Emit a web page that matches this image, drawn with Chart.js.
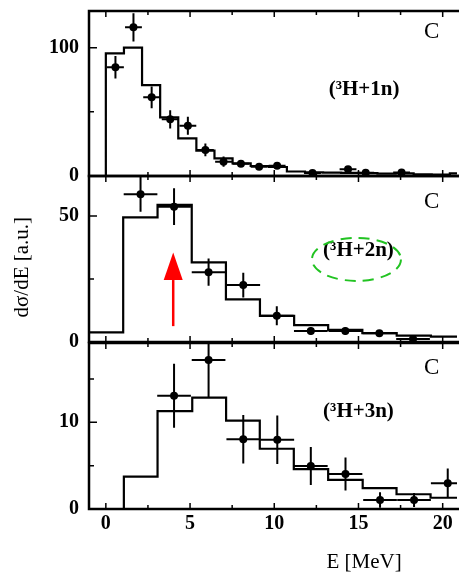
<!DOCTYPE html>
<html>
<head>
<meta charset="utf-8">
<script src="https://cdn.jsdelivr.net/npm/chart.js@4.4.0/dist/chart.umd.min.js"></script>
<style>
  body { margin: 0; background: #fff; }
  #wrap { position: relative; width: 461px; height: 576px; overflow: hidden; }
  .panel { position: absolute; left: 0; width: 461px; }
</style>
</head>
<body>
<div id="wrap">
  <div class="panel" style="top:0;height:200px"><canvas id="p1"></canvas></div>
  <div class="panel" style="top:166px;height:200px"><canvas id="p2"></canvas></div>
  <div class="panel" style="top:333px;height:243px"><canvas id="p3"></canvas></div>
</div>
<script>
// shared energy axis [MeV]
const xMajor = [0, 5, 10, 15, 20];
const xMinor = [2.5, 7.5, 12.5, 17.5];

// panel 1 : (3H+1n)
const edges1 = [0, 1.075, 2.15, 3.225, 4.3, 5.375, 6.45, 7.525, 8.6, 9.675, 10.75, 11.825, 12.9, 13.975, 15.05, 16.125, 17.2, 18.275, 19.35, 20.425, 21.5];
const hist1 = [95.6, 100, 70.9, 45.7, 29.4, 19.7, 13.8, 9.9, 7.8, 7.0, 3.5, 2.8, 2.6, 2.4, 2.2, 1.8, 2.0, 1.2, 1.0, 2.0];
const e1 = [0.57, 1.64, 2.72, 3.82, 4.87, 5.91, 6.99, 8.02, 9.1, 10.17, 12.27, 14.38, 15.43, 17.56];
const v1 = [84.7, 115.9, 61.3, 44.2, 39.2, 20.3, 11.2, 9.5, 7.3, 7.9, 2.4, 5.3, 2.6, 2.8];
const dv1 = [8.8, 11, 8.4, 7.1, 7, 5, 4, 2.5, 2, 2, 1.5, 2, 1.5, 1.5];
const de1 = [0.5, 0.5, 0.5, 0.5, 0.5, 0.5, 0.5, 0.5, 0.5, 0.5, 0.5, 0.5, 0.5, 0.5];
const yMajor1 = [0, 100];
const yMinor1 = [50];

// panel 2 : (3H+2n)
const edges2 = [-1.5, 1.03, 3.07, 5.1, 7.13, 9.15, 11.18, 13.2, 15.23, 17.27, 19.3, 21.5];
const hist2 = [3.8, 49.5, 54.4, 31.6, 16.9, 10.4, 6.7, 4.8, 3.5, 2.5, 2.1];
const e2 = [2.06, 4.05, 6.1, 8.16, 10.15, 12.17, 14.22, 16.24, 18.24];
const v2 = [58.7, 53.7, 27.7, 22.6, 10.4, 4.4, 4.4, 3.5, 1.2];
const dv2 = [7, 7.3, 5.4, 4.9, 3.8, 1.5, 1.5, 1.2, 1];
const de2 = [1, 1, 1, 1, 1, 1, 1, 1, 1];
const yMajor2 = [0, 50];
const yMinor2 = [25];

// panel 3 : (3H+3n)
const edges3 = [-1.5, 1.07, 3.07, 5.13, 7.14, 9.14, 11.16, 13.2, 15.25, 17.26, 19.28, 21.5];
const hist3 = [0, 3.73, 11.3, 12.84, 10.2, 6.95, 4.6, 3.35, 2.4, 1.7, 1.3];
const e3 = [4.05, 6.1, 8.16, 10.18, 12.17, 14.23, 16.28, 18.3, 20.3];
const v3 = [13.07, 17.2, 8.04, 8.0, 4.96, 4.04, 1.04, 1.04, 2.96];
const dv3 = [3.7, 4.4, 2.8, 2.8, 2.2, 1.9, 0.9, 0.8, 1.7];
const de3 = [1, 1, 1, 1, 1, 1, 1, 1, 1];
const yMajor3 = [0, 10];
const yMinor3 = [5, 15];

const serif = 'Liberation Serif';

function stepData(edges, levels) {
  const pts = [{x: edges[0], y: 0}];
  levels.forEach((v, i) => pts.push({x: edges[i], y: v}));
  pts.push({x: edges[edges.length - 1], y: 0});
  return pts;
}

const deco = {
  id: 'deco',
  afterDatasetsDraw(chart, args, o) {
    const {ctx, chartArea: a, scales: {x, y}} = chart;
    // error bars
    ctx.save();
    ctx.beginPath();
    ctx.rect(a.left, a.top, a.right - a.left, a.bottom - a.top);
    ctx.clip();
    ctx.strokeStyle = '#000';
    ctx.lineWidth = 2;
    ctx.beginPath();
    o.e.forEach((e, i) => {
      const px = x.getPixelForValue(e), py = y.getPixelForValue(o.v[i]);
      ctx.moveTo(x.getPixelForValue(e - o.de[i]), py);
      ctx.lineTo(x.getPixelForValue(e + o.de[i]), py);
      ctx.moveTo(px, y.getPixelForValue(o.v[i] - o.dv[i]));
      ctx.lineTo(px, y.getPixelForValue(o.v[i] + o.dv[i]));
    });
    ctx.stroke();
    ctx.restore();
  },
  afterDraw(chart, args, o) {
    const {ctx, chartArea: a, scales: {x, y}} = chart;
    ctx.save();
    // frame
    ctx.strokeStyle = '#000';
    ctx.lineWidth = 2.5;
    ctx.beginPath();
    ctx.moveTo(a.right + 2, a.top);
    ctx.lineTo(a.left, a.top);
    ctx.lineTo(a.left, a.bottom);
    ctx.lineTo(a.right + 2, a.bottom);
    ctx.stroke();
    // inward ticks
    ctx.lineWidth = 1.5;
    ctx.beginPath();
    const xt = (v, len) => {
      const p = x.getPixelForValue(v);
      ctx.moveTo(p, a.bottom); ctx.lineTo(p, a.bottom - len);
      ctx.moveTo(p, a.top); ctx.lineTo(p, a.top + len);
    };
    xMajor.forEach(v => xt(v, 6));
    xMinor.forEach(v => xt(v, 4));
    const yt = (v, len) => {
      const p = y.getPixelForValue(v);
      ctx.moveTo(a.left, p); ctx.lineTo(a.left + len, p);
    };
    o.yMajor.forEach(v => yt(v, 8));
    o.yMinor.forEach(v => yt(v, 5));
    ctx.stroke();

    // texts
    ctx.fillStyle = '#000';
    ctx.textAlign = 'center';
    ctx.textBaseline = 'middle';
    (o.texts || []).forEach(t => {
      ctx.font = t.font;
      const px = t.px !== undefined ? t.px : x.getPixelForValue(t.x);
      const py = t.py !== undefined ? a.bottom + t.py : y.getPixelForValue(t.y);
      ctx.save();
      ctx.translate(px, py);
      if (t.rot) ctx.rotate(t.rot);
      ctx.fillText(t.text, 0, 0);
      ctx.restore();
    });

    // dashed green ring
    if (o.ring) {
      ctx.strokeStyle = '#22c322';
      ctx.lineWidth = 2;
      ctx.setLineDash([11, 7]);
      ctx.beginPath();
      ctx.ellipse(x.getPixelForValue(o.ring.x), y.getPixelForValue(o.ring.y), o.ring.rx, o.ring.ry, 0, 0, Math.PI * 2);
      ctx.stroke();
      ctx.setLineDash([]);
    }
    // red arrow
    if (o.arrow) {
      const ax = x.getPixelForValue(o.arrow.x);
      const y0 = y.getPixelForValue(o.arrow.from);
      const y1 = y.getPixelForValue(o.arrow.to);
      const yb = y.getPixelForValue(o.arrow.head);
      ctx.strokeStyle = '#f00';
      ctx.fillStyle = '#f00';
      ctx.lineWidth = 2.5;
      ctx.beginPath();
      ctx.moveTo(ax, y0); ctx.lineTo(ax, yb);
      ctx.stroke();
      ctx.beginPath();
      ctx.moveTo(ax, y1);
      ctx.lineTo(ax - 9.5, yb);
      ctx.lineTo(ax + 9.5, yb);
      ctx.closePath();
      ctx.fill();
    }
    ctx.restore();
  }
};

function makePanel(id, cfg) {
  const showX = !!cfg.showX;
  return new Chart(id, {
    type: 'scatter',
    data: {
      datasets: [
        {
          data: stepData(cfg.edges, cfg.hist),
          showLine: true,
          stepped: 'before',
          borderColor: '#000',
          borderWidth: 2.2,
          pointRadius: 0
        },
        {
          data: cfg.e.map((e, i) => ({x: e, y: cfg.v[i]})),
          pointRadius: 4,
          pointBackgroundColor: '#000',
          pointBorderWidth: 0
        }
      ]
    },
    options: {
      responsive: true,
      maintainAspectRatio: false,
      animation: false,
      events: [],
      layout: { padding: cfg.padding },
      plugins: {
        legend: { display: false },
        tooltip: { enabled: false },
        deco: {
          e: cfg.e, v: cfg.v, dv: cfg.dv, de: cfg.de,
          yMajor: cfg.yMajor, yMinor: cfg.yMinor,
          texts: cfg.texts, ring: cfg.ring, arrow: cfg.arrow
        }
      },
      scales: {
        x: {
          type: 'linear',
          min: -1,
          max: 20.85,
          display: showX,
          afterBuildTicks: s => { s.ticks = xMajor.map(v => ({value: v})); },
          afterFit: s => {
            s.height = showX ? 67 : 0;
            s.paddingLeft = 0;
            s.paddingRight = 0;
          },
          grid: { display: false, drawTicks: false },
          border: { display: false },
          ticks: {
            padding: 3,
            maxRotation: 0,
            autoSkip: false,
            color: '#000',
            font: { family: serif, size: 20, weight: 'bold' }
          }
        },
        y: {
          min: 0,
          max: cfg.ymax,
          afterBuildTicks: s => { s.ticks = cfg.yMajor.map(v => ({value: v})); },
          afterFit: s => { s.width = 89; s.paddingTop = 0; s.paddingBottom = 0; },
          grid: { display: false, drawTicks: false },
          border: { display: false },
          ticks: {
            padding: 10,
            autoSkip: false,
            color: '#000',
            font: { family: serif, size: 20, weight: 'bold' }
          }
        }
      }
    },
    plugins: [deco]
  });
}

const labelFont = 'bold 21px "' + serif + '"';
const cFont = '23px "' + serif + '"';

makePanel('p1', {
  edges: edges1, hist: hist1, e: e1, v: v1, dv: dv1, de: de1,
  yMajor: yMajor1, yMinor: yMinor1, ymax: 128.6,
  padding: { top: 11, bottom: 24, left: 0, right: 0 },
  texts: [
    { text: 'C', x: 19.35, y: 112, font: cFont },
    { text: '(³H+1n)', x: 15.33, y: 67, font: labelFont }
  ]
});

makePanel('p2', {
  edges: edges2, hist: hist2, e: e2, v: v2, dv: dv2, de: de2,
  yMajor: yMajor2, yMinor: yMinor2, ymax: 65.9,
  padding: { top: 10, bottom: 24, left: 0, right: 0 },
  texts: [
    { text: 'C', x: 19.35, y: 55.4, font: cFont },
    { text: '(³H+2n)', x: 15.0, y: 36.2, font: labelFont },
    { text: 'dσ/dE [a.u.]', px: 22, y: 29.7, rot: -Math.PI / 2, font: '21px "' + serif + '"' }
  ],
  ring: { x: 14.88, y: 32.8, rx: 44.5, ry: 21.5 },
  arrow: { x: 4.0, from: 6.3, to: 35.5, head: 24.6 }
});

makePanel('p3', {
  edges: edges3, hist: hist3, e: e3, v: v3, dv: dv3, de: de3,
  yMajor: yMajor3, yMinor: yMinor3, ymax: 19.15,
  showX: true,
  padding: { top: 10, bottom: 0, left: 0, right: 0 },
  texts: [
    { text: 'C', x: 19.35, y: 16.3, font: cFont },
    { text: '(³H+3n)', x: 15.0, y: 11.2, font: labelFont },
    { text: 'E [MeV]', x: 15.33, py: 53, font: '21px "' + serif + '"' }
  ]
});
</script>
</body>
</html>
